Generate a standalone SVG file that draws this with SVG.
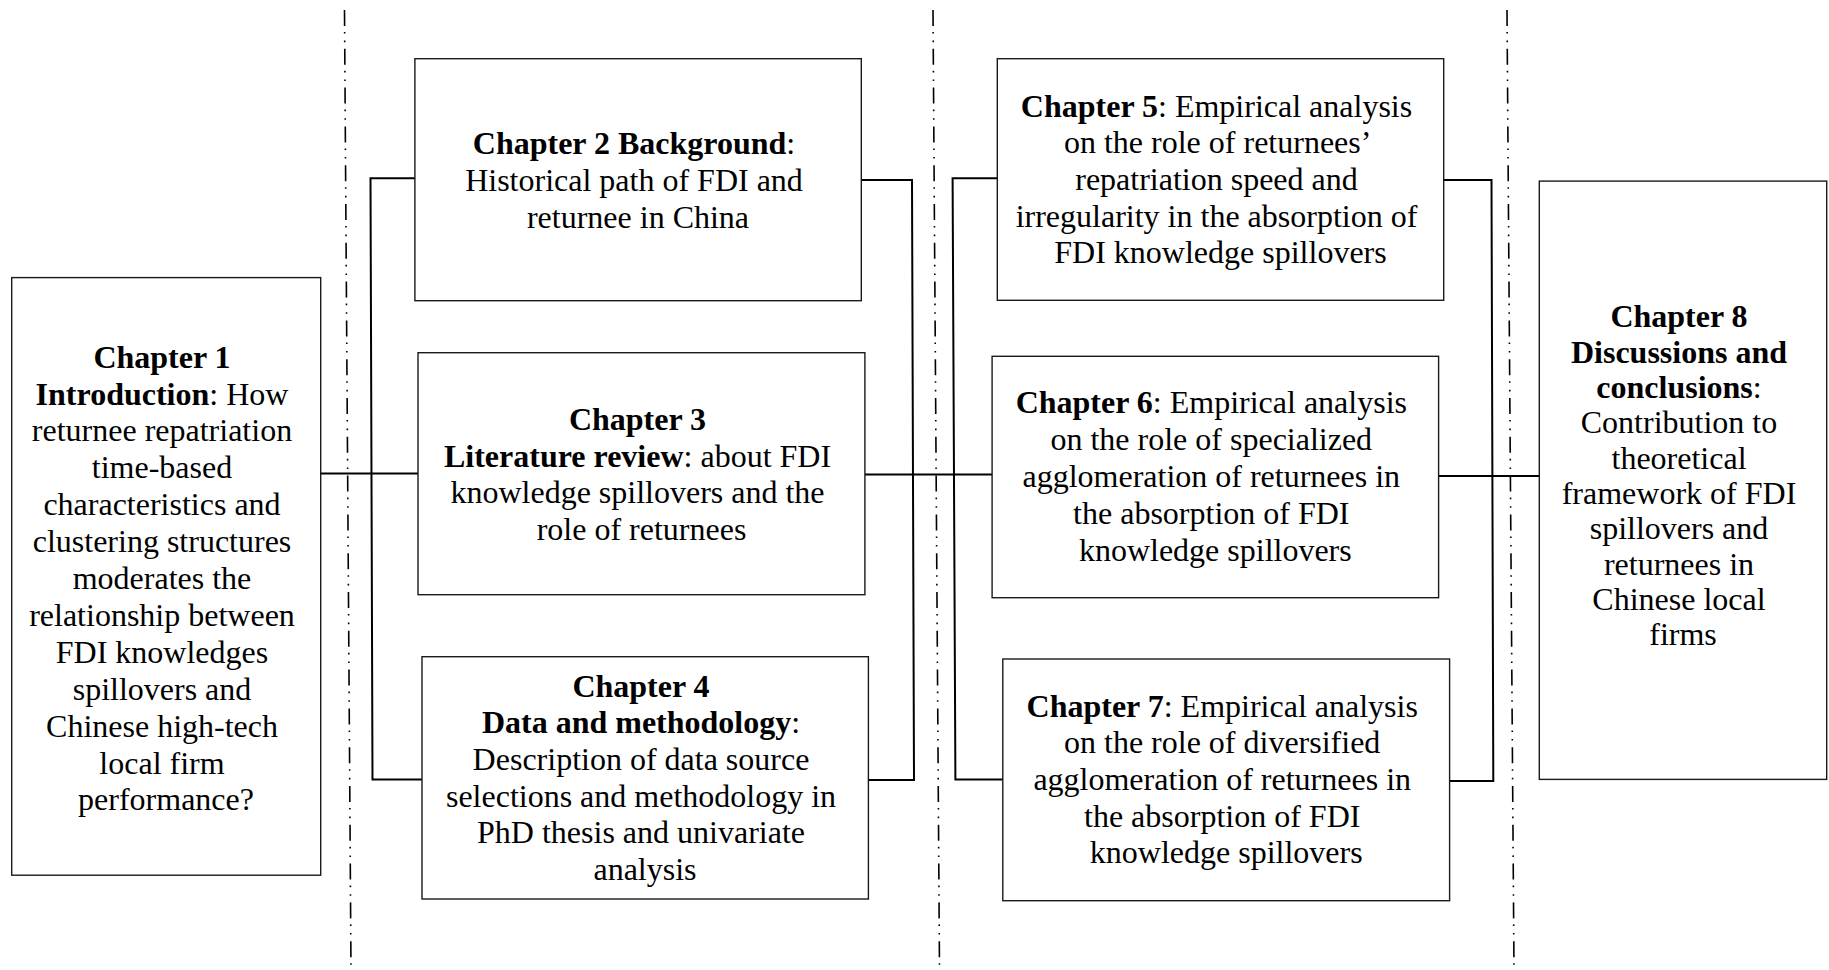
<svg xmlns="http://www.w3.org/2000/svg" width="1829" height="970" viewBox="0 0 1829 970">
  <style>
    .box { fill: #ffffff; stroke: #1a1a1a; stroke-width: 1.4; }
    .lbl { font-family: "Liberation Serif", "Times New Roman", serif; font-size: 32px; fill: #000000; text-anchor: middle; }
    .b { font-weight: bold; }
    .link { fill: none; stroke: #000000; stroke-width: 2; }
    .divider { fill: none; stroke: #000000; stroke-width: 1.6; stroke-dasharray: 16 6 1.6 7 1.6 6.6; }
  </style>

  <rect width="1829" height="970" fill="#ffffff"/>

  <!-- column dividers -->
  <g id="dividers">
    <line class="divider" x1="344.5" y1="10" x2="351" y2="970"/>
    <line class="divider" x1="933" y1="10" x2="939.5" y2="970"/>
    <line class="divider" x1="1507" y1="10" x2="1514" y2="970"/>
  </g>

  <!-- connectors -->
  <g id="connectors">
    <path class="link" d="M321 473.5 H418"/>
    <path class="link" d="M415 178.3 H370.5 L372.5 779.5 H422"/>
    <path class="link" d="M861.3 180 H912 L914 780 H868.4"/>
    <path class="link" d="M865 474.5 H992"/>
    <path class="link" d="M997.3 178.3 H952.6 L955.4 779.5 H1002.8"/>
    <path class="link" d="M1443.7 180 H1491.5 L1493.3 781 H1449.6"/>
    <path class="link" d="M1438.6 476 H1539.3"/>
  </g>

  <g id="ch1">
    <rect class="box" x="11.7" y="277.6" width="309" height="597.6"/>
    <text class="lbl">
      <tspan x="166" y="367.6" class="b">Chapter 1</tspan>
      <tspan x="166" y="404.5"><tspan class="b">Introduction</tspan>: How</tspan>
      <tspan x="166" y="441.4">returnee repatriation</tspan>
      <tspan x="166" y="478.3">time-based</tspan>
      <tspan x="166" y="515.2">characteristics and</tspan>
      <tspan x="166" y="552.1">clustering structures</tspan>
      <tspan x="166" y="589">moderates the</tspan>
      <tspan x="166" y="625.9">relationship between</tspan>
      <tspan x="166" y="662.8">FDI knowledges</tspan>
      <tspan x="166" y="699.7">spillovers and</tspan>
      <tspan x="166" y="736.6">Chinese high-tech</tspan>
      <tspan x="166" y="773.5">local firm</tspan>
      <tspan x="166" y="810.4">performance?</tspan>
    </text>
  </g>

  <g id="ch2">
    <rect class="box" x="414.9" y="58.7" width="446.4" height="242"/>
    <text class="lbl">
      <tspan x="638" y="154"><tspan class="b">Chapter 2 Background</tspan>:</tspan>
      <tspan x="638" y="191">Historical path of FDI and</tspan>
      <tspan x="638" y="228">returnee in China</tspan>
    </text>
  </g>

  <g id="ch3">
    <rect class="box" x="418" y="352.7" width="446.9" height="242"/>
    <text class="lbl">
      <tspan x="641.5" y="430" class="b">Chapter 3</tspan>
      <tspan x="641.5" y="467"><tspan class="b">Literature review</tspan>: about FDI</tspan>
      <tspan x="641.5" y="503">knowledge spillovers and the</tspan>
      <tspan x="641.5" y="540">role of returnees</tspan>
    </text>
  </g>

  <g id="ch4">
    <rect class="box" x="422" y="656.7" width="446.4" height="242.3"/>
    <text class="lbl">
      <tspan x="645" y="697" class="b">Chapter 4</tspan>
      <tspan x="645" y="733"><tspan class="b">Data and methodology</tspan>:</tspan>
      <tspan x="645" y="770">Description of data source</tspan>
      <tspan x="645" y="807">selections and methodology in</tspan>
      <tspan x="645" y="843">PhD thesis and univariate</tspan>
      <tspan x="645" y="880">analysis</tspan>
    </text>
  </g>

  <g id="ch5">
    <rect class="box" x="997.3" y="58.7" width="446.4" height="241.6"/>
    <text class="lbl">
      <tspan x="1220.5" y="117"><tspan class="b">Chapter 5</tspan>: Empirical analysis</tspan>
      <tspan x="1220.5" y="153">on the role of returnees’</tspan>
      <tspan x="1220.5" y="190">repatriation speed and</tspan>
      <tspan x="1220.5" y="227">irregularity in the absorption of</tspan>
      <tspan x="1220.5" y="263">FDI knowledge spillovers</tspan>
    </text>
  </g>

  <g id="ch6">
    <rect class="box" x="992.1" y="356.3" width="446.5" height="241.4"/>
    <text class="lbl">
      <tspan x="1215.3" y="413"><tspan class="b">Chapter 6</tspan>: Empirical analysis</tspan>
      <tspan x="1215.3" y="450">on the role of specialized</tspan>
      <tspan x="1215.3" y="487">agglomeration of returnees in</tspan>
      <tspan x="1215.3" y="524">the absorption of FDI</tspan>
      <tspan x="1215.3" y="561">knowledge spillovers</tspan>
    </text>
  </g>

  <g id="ch7">
    <rect class="box" x="1002.8" y="659" width="446.8" height="241.7"/>
    <text class="lbl">
      <tspan x="1226.2" y="717"><tspan class="b">Chapter 7</tspan>: Empirical analysis</tspan>
      <tspan x="1226.2" y="753">on the role of diversified</tspan>
      <tspan x="1226.2" y="790">agglomeration of returnees in</tspan>
      <tspan x="1226.2" y="827">the absorption of FDI</tspan>
      <tspan x="1226.2" y="863">knowledge spillovers</tspan>
    </text>
  </g>

  <g id="ch8">
    <rect class="box" x="1539.3" y="181.1" width="287.4" height="598.3"/>
    <text class="lbl">
      <tspan x="1683" y="327.4" class="b">Chapter 8</tspan>
      <tspan x="1683" y="362.7" class="b">Discussions and</tspan>
      <tspan x="1683" y="398"><tspan class="b">conclusions</tspan>:</tspan>
      <tspan x="1683" y="433.3">Contribution to</tspan>
      <tspan x="1683" y="468.6">theoretical</tspan>
      <tspan x="1683" y="503.9">framework of FDI</tspan>
      <tspan x="1683" y="539.2">spillovers and</tspan>
      <tspan x="1683" y="574.5">returnees in</tspan>
      <tspan x="1683" y="609.8">Chinese local</tspan>
      <tspan x="1683" y="645.1">firms</tspan>
    </text>
  </g>
</svg>
